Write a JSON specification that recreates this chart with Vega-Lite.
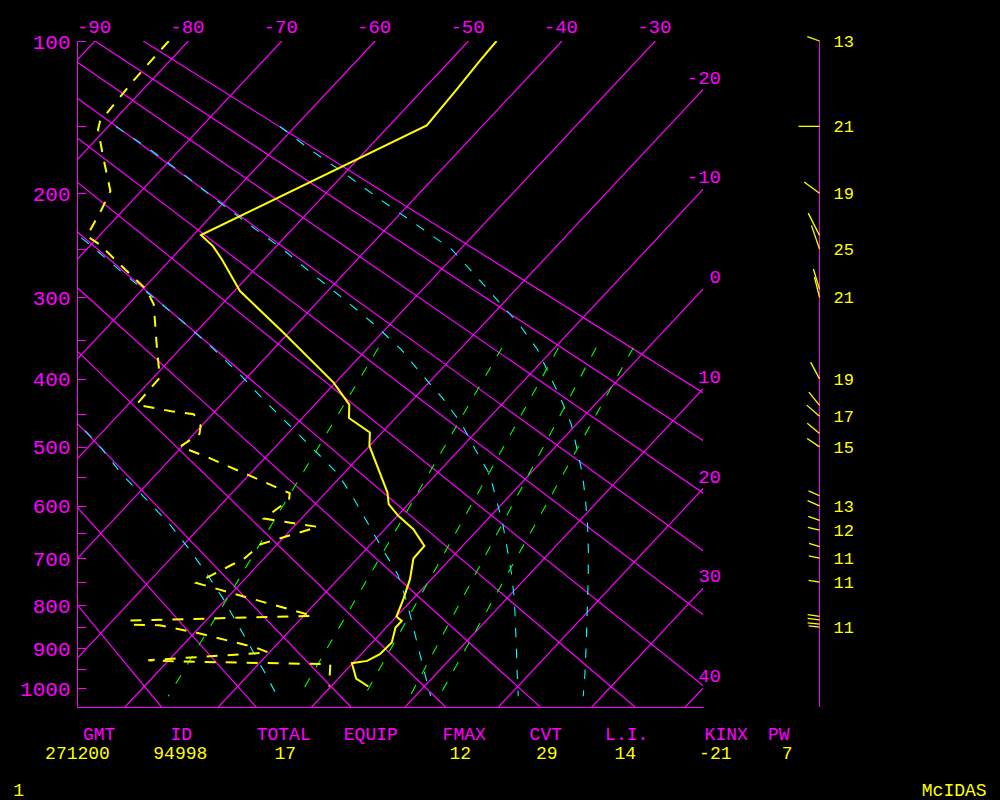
{
  "$schema": "https://vega.github.io/schema/vega-lite/v6.json",
  "width": 626,
  "height": 666,
  "autosize": {"type": "none"},
  "padding": {"left": 77, "top": 41, "right": 297, "bottom": 93},
  "background": "#000000",
  "config": {"view": {"stroke": null}, "text": {"font": "Liberation Mono"}, "axis": {"labelFont": "Liberation Mono"}},
  "datasets": {
    "isot": [
      {"T": -90, "p": 100}, {"T": -90, "p": 1050}, {"T": -80, "p": 100}, {"T": -80, "p": 1050},
      {"T": -70, "p": 100}, {"T": -70, "p": 1050}, {"T": -60, "p": 100}, {"T": -60, "p": 1050},
      {"T": -50, "p": 100}, {"T": -50, "p": 1050}, {"T": -40, "p": 100}, {"T": -40, "p": 1050},
      {"T": -30, "p": 100}, {"T": -30, "p": 1050}, {"T": -20, "p": 100}, {"T": -20, "p": 1050},
      {"T": -10, "p": 100}, {"T": -10, "p": 1050}, {"T": 0, "p": 100}, {"T": 0, "p": 1050},
      {"T": 10, "p": 100}, {"T": 10, "p": 1050}, {"T": 20, "p": 100}, {"T": 20, "p": 1050},
      {"T": 30, "p": 100}, {"T": 30, "p": 1050}, {"T": 40, "p": 100}, {"T": 40, "p": 1050}
    ],
    "adiab": [
      {"th": -20, "p": 100, "T": -141.77}, {"th": -20, "p": 1050, "T": -16.09},
      {"th": -10, "p": 100, "T": -136.59}, {"th": -10, "p": 1050, "T": -5.95},
      {"th": 0, "p": 100, "T": -131.41}, {"th": 0, "p": 1050, "T": 4.19},
      {"th": 10, "p": 100, "T": -126.24}, {"th": 10, "p": 1050, "T": 14.33},
      {"th": 20, "p": 100, "T": -121.06}, {"th": 20, "p": 1050, "T": 24.47},
      {"th": 30, "p": 100, "T": -115.89}, {"th": 30, "p": 1050, "T": 34.61},
      {"th": 40, "p": 100, "T": -110.71}, {"th": 40, "p": 1050, "T": 44.75},
      {"th": 50, "p": 100, "T": -105.53}, {"th": 50, "p": 1050, "T": 54.89},
      {"th": 60, "p": 100, "T": -100.35}, {"th": 60, "p": 1050, "T": 65.03},
      {"th": 70, "p": 100, "T": -95.18}, {"th": 70, "p": 1050, "T": 75.17},
      {"th": 80, "p": 100, "T": -90.0}, {"th": 80, "p": 1050, "T": 85.31},
      {"th": 90, "p": 100, "T": -84.83}, {"th": 90, "p": 1050, "T": 95.45}
    ],
    "moist": [
      {"c": "A", "p": 428.5, "T": -58.12}, {"c": "A", "p": 464.9, "T": -53.24}, {"c": "A", "p": 503.6, "T": -48.3},
      {"c": "A", "p": 544.8, "T": -43.69}, {"c": "A", "p": 588.3, "T": -38.55}, {"c": "A", "p": 634.1, "T": -33.54},
      {"c": "A", "p": 682.4, "T": -28.93}, {"c": "A", "p": 733.3, "T": -24.51}, {"c": "A", "p": 786.6, "T": -20.28},
      {"c": "A", "p": 843.0, "T": -16.25}, {"c": "A", "p": 902.0, "T": -12.23}, {"c": "A", "p": 964.1, "T": -8.22},
      {"c": "A", "p": 1021.1, "T": -4.78},
      {"c": "B", "p": 226.9, "T": -74.79}, {"c": "B", "p": 250.3, "T": -69.07}, {"c": "B", "p": 275.4, "T": -63.44},
      {"c": "B", "p": 302.3, "T": -57.56}, {"c": "B", "p": 330.9, "T": -51.85}, {"c": "B", "p": 361.5, "T": -46.34},
      {"c": "B", "p": 394.0, "T": -41.04}, {"c": "B", "p": 428.5, "T": -36.04}, {"c": "B", "p": 464.9, "T": -30.86},
      {"c": "B", "p": 503.6, "T": -25.68}, {"c": "B", "p": 544.8, "T": -20.5}, {"c": "B", "p": 588.3, "T": -16.3},
      {"c": "B", "p": 634.1, "T": -12.26}, {"c": "B", "p": 682.4, "T": -8.22}, {"c": "B", "p": 733.3, "T": -4.11},
      {"c": "B", "p": 786.6, "T": -0.73}, {"c": "B", "p": 843.0, "T": 2.49}, {"c": "B", "p": 902.0, "T": 5.65},
      {"c": "B", "p": 964.1, "T": 8.83}, {"c": "B", "p": 1021.1, "T": 11.65},
      {"c": "C", "p": 150.1, "T": -79.18}, {"c": "C", "p": 166.1, "T": -73.24}, {"c": "C", "p": 184.9, "T": -67.11},
      {"c": "C", "p": 205.2, "T": -61.19}, {"c": "C", "p": 226.9, "T": -55.13}, {"c": "C", "p": 250.3, "T": -48.98},
      {"c": "C", "p": 275.4, "T": -43.26}, {"c": "C", "p": 302.3, "T": -37.39}, {"c": "C", "p": 330.9, "T": -31.68},
      {"c": "C", "p": 361.5, "T": -26.29}, {"c": "C", "p": 394.0, "T": -21.57}, {"c": "C", "p": 428.5, "T": -16.73},
      {"c": "C", "p": 464.9, "T": -12.29}, {"c": "C", "p": 503.6, "T": -8.36}, {"c": "C", "p": 544.8, "T": -4.29},
      {"c": "C", "p": 588.3, "T": -1.06}, {"c": "C", "p": 634.1, "T": 2.14}, {"c": "C", "p": 682.4, "T": 5.12},
      {"c": "C", "p": 733.3, "T": 8.09}, {"c": "C", "p": 786.6, "T": 10.88}, {"c": "C", "p": 843.0, "T": 13.51},
      {"c": "C", "p": 902.0, "T": 16.12}, {"c": "C", "p": 964.1, "T": 18.71}, {"c": "C", "p": 1021.1, "T": 21.03},
      {"c": "D", "p": 150.1, "T": -61.62}, {"c": "D", "p": 166.1, "T": -56.11}, {"c": "D", "p": 184.9, "T": -49.75},
      {"c": "D", "p": 205.2, "T": -43.56}, {"c": "D", "p": 226.9, "T": -37.25}, {"c": "D", "p": 250.3, "T": -30.91},
      {"c": "D", "p": 275.4, "T": -25.96}, {"c": "D", "p": 302.3, "T": -21.07}, {"c": "D", "p": 330.9, "T": -16.16},
      {"c": "D", "p": 361.5, "T": -11.69}, {"c": "D", "p": 394.0, "T": -7.92}, {"c": "D", "p": 428.5, "T": -4.14},
      {"c": "D", "p": 464.9, "T": -0.57}, {"c": "D", "p": 503.6, "T": 2.55}, {"c": "D", "p": 544.8, "T": 5.65},
      {"c": "D", "p": 588.3, "T": 8.48}, {"c": "D", "p": 634.1, "T": 11.21}, {"c": "D", "p": 682.4, "T": 13.8},
      {"c": "D", "p": 733.3, "T": 16.3}, {"c": "D", "p": 786.6, "T": 18.73}, {"c": "D", "p": 843.0, "T": 21.15},
      {"c": "D", "p": 902.0, "T": 23.57}, {"c": "D", "p": 964.1, "T": 25.96}, {"c": "D", "p": 1021.1, "T": 27.99}
    ],
    "mix": [
      {"w": 1, "p": 359.3, "T": -28.89}, {"w": 1, "p": 567.6, "T": -23.91}, {"w": 1, "p": 1021.1, "T": -16.45},
      {"w": 3, "p": 359.3, "T": -15.66}, {"w": 3, "p": 567.6, "T": -10.34}, {"w": 3, "p": 1021.1, "T": -2.42},
      {"w": 5, "p": 359.3, "T": -9.61}, {"w": 5, "p": 567.6, "T": -3.88}, {"w": 5, "p": 1021.1, "T": 4.54},
      {"w": 7, "p": 359.3, "T": -5.58}, {"w": 7, "p": 567.6, "T": 0.48}, {"w": 7, "p": 1021.1, "T": 9.43},
      {"w": 9, "p": 359.3, "T": -1.6}, {"w": 9, "p": 567.6, "T": 4.12}, {"w": 9, "p": 1021.1, "T": 12.57}
    ],
    "temp": [
      {"p": 100, "T": -47.0}, {"p": 110.5, "T": -46.8}, {"p": 126.6, "T": -46.4}, {"p": 149.4, "T": -46.0},
      {"p": 236.7, "T": -59.2}, {"p": 247.2, "T": -56.8}, {"p": 260.2, "T": -54.5}, {"p": 293.1, "T": -49.4},
      {"p": 340.7, "T": -40.6}, {"p": 405, "T": -30.2}, {"p": 436, "T": -26.3}, {"p": 455.5, "T": -25.0},
      {"p": 477.5, "T": -21.3}, {"p": 498.5, "T": -20.0}, {"p": 576.3, "T": -13.4}, {"p": 597.1, "T": -12.1},
      {"p": 618.4, "T": -9.9}, {"p": 643.4, "T": -6.95}, {"p": 675.7, "T": -4.1}, {"p": 701, "T": -4.0},
      {"p": 743.6, "T": -2.3}, {"p": 786.7, "T": -1.0}, {"p": 825.4, "T": 0.0}, {"p": 835.4, "T": 1.0},
      {"p": 850.7, "T": 1.0}, {"p": 885.9, "T": 2.1}, {"p": 914.2, "T": 2.0}, {"p": 930.7, "T": 1.3},
      {"p": 936.4, "T": -0.1}, {"p": 975.1, "T": 1.9}, {"p": 995.7, "T": 4.0}
    ],
    "dew": [
      {"p": 100.0, "T": -82.1}, {"p": 121.9, "T": -81.9}, {"p": 146.7, "T": -81.4}, {"p": 152.1, "T": -80.8},
      {"p": 173.4, "T": -77.2}, {"p": 198.2, "T": -73.3}, {"p": 213.7, "T": -72.4}, {"p": 237.7, "T": -71.3},
      {"p": 245.6, "T": -69.1}, {"p": 271.1, "T": -63.7}, {"p": 291.3, "T": -59.6}, {"p": 307.8, "T": -57.3},
      {"p": 357.2, "T": -52.8}, {"p": 398.3, "T": -49.3}, {"p": 436.0, "T": -49.1}, {"p": 445.6, "T": -44.7},
      {"p": 450.0, "T": -42.0}, {"p": 467.2, "T": -40.1}, {"p": 479.9, "T": -39.4}, {"p": 499.4, "T": -40.2},
      {"p": 516.6, "T": -36.2}, {"p": 546.4, "T": -30.0}, {"p": 577.5, "T": -23.8}, {"p": 589.4, "T": -23.2},
      {"p": 623.4, "T": -24.0}, {"p": 639.1, "T": -17.4}, {"p": 672.4, "T": -21.8}, {"p": 700.3, "T": -22.1},
      {"p": 751.5, "T": -24.8}, {"p": 777.5, "T": -19.1}, {"p": 824.1, "T": -9.0}, {"p": 834.6, "T": -28.3},
      {"p": 843.8, "T": -27.7}, {"p": 845.4, "T": -24.5}, {"p": 864.0, "T": -19.5}, {"p": 898.0, "T": -12.0},
      {"p": 910.2, "T": -10.1}, {"p": 929.1, "T": -22.2}, {"p": 932.4, "T": -18.4}, {"p": 939.0, "T": -2.3},
      {"p": 982.0, "T": -0.7}, {"p": 995.7, "T": -0.2}
    ],
    "toplab": [
      {"T": -90, "p": 100, "lab": "-90"}, {"T": -80, "p": 100, "lab": "-80"}, {"T": -70, "p": 100, "lab": "-70"},
      {"T": -60, "p": 100, "lab": "-60"}, {"T": -50, "p": 100, "lab": "-50"}, {"T": -40, "p": 100, "lab": "-40"},
      {"T": -30, "p": 100, "lab": "-30"}
    ],
    "rightlab": [
      {"T": -20, "p": 126.8, "lab": "-20"}, {"T": -10, "p": 196.9, "lab": "-10"}, {"T": 0, "p": 291.1, "lab": "0"},
      {"T": 10, "p": 413.9, "lab": "10"}, {"T": 20, "p": 569.5, "lab": "20"}, {"T": 30, "p": 762.6, "lab": "30"},
      {"T": 40, "p": 999.9, "lab": "40"}
    ],
    "barbaxis": [{"p": 100}, {"p": 1050}],
    "barbs": [
      {"p": 100, "dir": 290, "spd": 13, "lab": "13"}, {"p": 150, "dir": 270, "spd": 21, "lab": "21"},
      {"p": 200, "dir": 306, "spd": 19, "lab": "19"}, {"p": 237, "dir": 333, "spd": 25, "lab": ""},
      {"p": 250, "dir": 341, "spd": 25, "lab": "25"}, {"p": 291, "dir": 343, "spd": 21, "lab": ""},
      {"p": 300, "dir": 346, "spd": 21, "lab": "21"}, {"p": 400, "dir": 332, "spd": 19, "lab": "19"},
      {"p": 437, "dir": 321, "spd": 17, "lab": ""}, {"p": 453, "dir": 311, "spd": 17, "lab": "17"},
      {"p": 479, "dir": 310, "spd": 16, "lab": ""}, {"p": 500, "dir": 304, "spd": 15, "lab": "15"},
      {"p": 582, "dir": 294, "spd": 12, "lab": ""}, {"p": 600, "dir": 293, "spd": 13, "lab": "13"},
      {"p": 627, "dir": 290, "spd": 12, "lab": ""}, {"p": 645, "dir": 283, "spd": 12, "lab": "12"},
      {"p": 677, "dir": 287, "spd": 11, "lab": ""}, {"p": 700, "dir": 282, "spd": 11, "lab": "11"},
      {"p": 750, "dir": 280, "spd": 11, "lab": "11"}, {"p": 825, "dir": 278, "spd": 12, "lab": ""},
      {"p": 833, "dir": 277, "spd": 12, "lab": ""}, {"p": 843, "dir": 276, "spd": 12, "lab": ""},
      {"p": 850, "dir": 277, "spd": 11, "lab": "11"}
    ],
    "table": [
      {"k": 0, "line": 4, "t": "1"}, {"k": 1, "line": 2, "t": "271200"}, {"k": 2, "line": 1, "t": "GMT"},
      {"k": 3, "line": 2, "t": "94998"}, {"k": 4, "line": 1, "t": "ID"}, {"k": 5, "line": 1, "t": "TOTAL"},
      {"k": 6, "line": 2, "t": "17"}, {"k": 7, "line": 1, "t": "EQUIP"}, {"k": 8, "line": 2, "t": "12"},
      {"k": 9, "line": 1, "t": "FMAX"}, {"k": 10, "line": 1, "t": "CVT"}, {"k": 11, "line": 2, "t": "29"},
      {"k": 12, "line": 2, "t": "14"}, {"k": 13, "line": 1, "t": "L.I."}, {"k": 14, "line": 2, "t": "-21"},
      {"k": 15, "line": 1, "t": "KINX"}, {"k": 16, "line": 1, "t": "PW"}, {"k": 17, "line": 2, "t": "7"},
      {"k": 18, "line": 4, "t": "McIDAS"}
    ]
  },
  "resolve": {"scale": {"x": "independent", "y": "independent"}},
  "layer": [
    {
      "encoding": {
        "x": {"field": "xs", "type": "quantitative",
              "scale": {"domain": [-91.928, -24.89], "nice": false, "zero": false},
              "axis": {"orient": "bottom", "title": null, "labels": false, "ticks": false, "grid": false,
                       "domainColor": "#ff00ff", "domainWidth": 1}},
        "y": {"field": "p", "type": "quantitative",
              "scale": {"type": "pow", "exponent": 0.286, "domain": [100, 1050], "reverse": true, "nice": false, "zero": false},
              "axis": {"orient": "left", "title": null, "grid": false,
                       "values": [100, 150, 200, 250, 300, 350, 400, 450, 500, 550, 600, 650, 700, 750, 800, 850, 900, 950, 1000],
                       "format": "d", "labelExpr": "datum.value % 100 === 0 ? datum.label : ''",
                       "labelColor": "#ff00ff", "labelFont": "Liberation Mono", "labelFontSize": 21,
                       "labelPadding": 16, "labelOffset": 1, "labelOverlap": false, "labelFlush": false, "labelBound": false,
                       "tickColor": "#ff00ff", "tickSize": -9, "tickWidth": 1,
                       "domainColor": "#ff00ff", "domainWidth": 1}}
      },
      "layer": [
        {
          "data": {"name": "isot"},
          "transform": [{"calculate": "datum.T - 18.656 * (pow(datum.p, 0.286) - 3.7324)", "as": "xs"}],
          "mark": {"type": "line", "clip": true, "color": "#ff00ff", "strokeWidth": 1.2},
          "encoding": {"detail": {"field": "T", "type": "nominal"}, "order": {"field": "p", "type": "quantitative"}}
        },
        {
          "data": {"name": "adiab"},
          "transform": [{"calculate": "datum.T - 18.656 * (pow(datum.p, 0.286) - 3.7324)", "as": "xs"}],
          "mark": {"type": "line", "clip": true, "color": "#ff00ff", "strokeWidth": 1.2},
          "encoding": {"detail": {"field": "th", "type": "nominal"}, "order": {"field": "p", "type": "quantitative"}}
        },
        {
          "data": {"name": "moist"},
          "transform": [{"calculate": "datum.T - 18.656 * (pow(datum.p, 0.286) - 3.7324)", "as": "xs"}],
          "mark": {"type": "line", "clip": true, "color": "#00ffff", "strokeWidth": 1.1, "strokeDash": [9.5, 11.5]},
          "encoding": {"detail": {"field": "c", "type": "nominal"}, "order": {"field": "p", "type": "quantitative"}}
        },
        {
          "data": {"name": "mix"},
          "transform": [{"calculate": "datum.T - 18.656 * (pow(datum.p, 0.286) - 3.7324)", "as": "xs"}],
          "mark": {"type": "line", "clip": true, "color": "#00ff00", "strokeWidth": 1.1, "strokeDash": [10, 12.5]},
          "encoding": {"detail": {"field": "w", "type": "nominal"}, "order": {"field": "p", "type": "quantitative"}}
        },
        {
          "data": {"name": "dew"},
          "transform": [{"calculate": "datum.T - 18.656 * (pow(datum.p, 0.286) - 3.7324)", "as": "xs"}],
          "mark": {"type": "line", "clip": true, "color": "#ffff00", "strokeWidth": 2, "strokeDash": [11, 10]},
          "encoding": {"order": {"field": "p", "type": "quantitative"}}
        },
        {
          "data": {"name": "temp"},
          "transform": [{"calculate": "datum.T - 18.656 * (pow(datum.p, 0.286) - 3.7324)", "as": "xs"}],
          "mark": {"type": "line", "clip": true, "color": "#ffff00", "strokeWidth": 2},
          "encoding": {"order": {"field": "p", "type": "quantitative"}}
        },
        {
          "data": {"name": "toplab"},
          "transform": [{"calculate": "datum.T - 18.656 * (pow(datum.p, 0.286) - 3.7324)", "as": "xs"}],
          "mark": {"type": "text", "color": "#ff00ff", "fontSize": 19, "align": "center", "baseline": "middle", "dy": -14, "dx": -1},
          "encoding": {"text": {"field": "lab"}}
        },
        {
          "data": {"name": "rightlab"},
          "transform": [{"calculate": "datum.T - 18.656 * (pow(datum.p, 0.286) - 3.7324)", "as": "xs"}],
          "mark": {"type": "text", "color": "#ff00ff", "fontSize": 19, "align": "right", "baseline": "middle", "dy": -12, "dx": 18},
          "encoding": {"text": {"field": "lab"}}
        },
        {
          "data": {"name": "barbaxis"},
          "transform": [{"calculate": "-12.41", "as": "xs"}],
          "mark": {"type": "line", "color": "#ff00ff", "strokeWidth": 1},
          "encoding": {"order": {"field": "p", "type": "quantitative"}}
        },
        {
          "data": {"name": "barbs"},
          "transform": [{"calculate": "-12.41", "as": "xs"}],
          "mark": {"type": "point", "shape": "M0,0L0,-2", "filled": false, "color": "#ffff00", "strokeWidth": 1.3, "opacity": 1},
          "encoding": {
            "angle": {"field": "dir", "type": "quantitative", "scale": {"domain": [0, 360], "range": [0, 360]}},
            "size": {"field": "spd", "type": "quantitative", "scale": {"type": "pow", "exponent": 2, "domain": [0, 30], "range": [0, 900]}, "legend": null}
          }
        },
        {
          "data": {"name": "barbs"},
          "transform": [{"calculate": "-12.41", "as": "xs"}],
          "mark": {"type": "text", "color": "#ffff00", "fontSize": 17, "align": "left", "baseline": "middle", "dx": 14, "dy": 1},
          "encoding": {"text": {"field": "lab"}}
        }
      ]
    },
    {
      "data": {"name": "table"},
      "mark": {"type": "text", "align": "center", "baseline": "middle"},
      "encoding": {
        "x": {"field": "k", "type": "quantitative",
              "scale": {"domain": [0, 1, 2, 3, 4, 5, 6, 7, 8, 9, 10, 11, 12, 13, 14, 15, 16, 17, 18],
                        "range": [-58.3, 0.5, 22.2, 103.3, 104.2, 206.7, 208.3, 293.8, 383.3, 387.2, 468.8, 469.7, 548.3, 549.7, 638.3, 649.2, 701.8, 710.2, 877.2],
                        "nice": false, "zero": false},
              "axis": null},
        "y": {"field": "line", "type": "quantitative",
              "scale": {"domain": [1, 4], "range": [694, 750], "nice": false, "zero": false},
              "axis": null},
        "text": {"field": "t"},
        "color": {"field": "line", "type": "ordinal", "scale": {"domain": [1, 2, 4], "range": ["#ff00ff", "#ffff00", "#ffff00"]}, "legend": null},
        "size": {"field": "line", "type": "ordinal", "scale": {"domain": [1, 2, 4], "range": [18, 18, 12]}, "legend": null}
      }
    }
  ]
}
